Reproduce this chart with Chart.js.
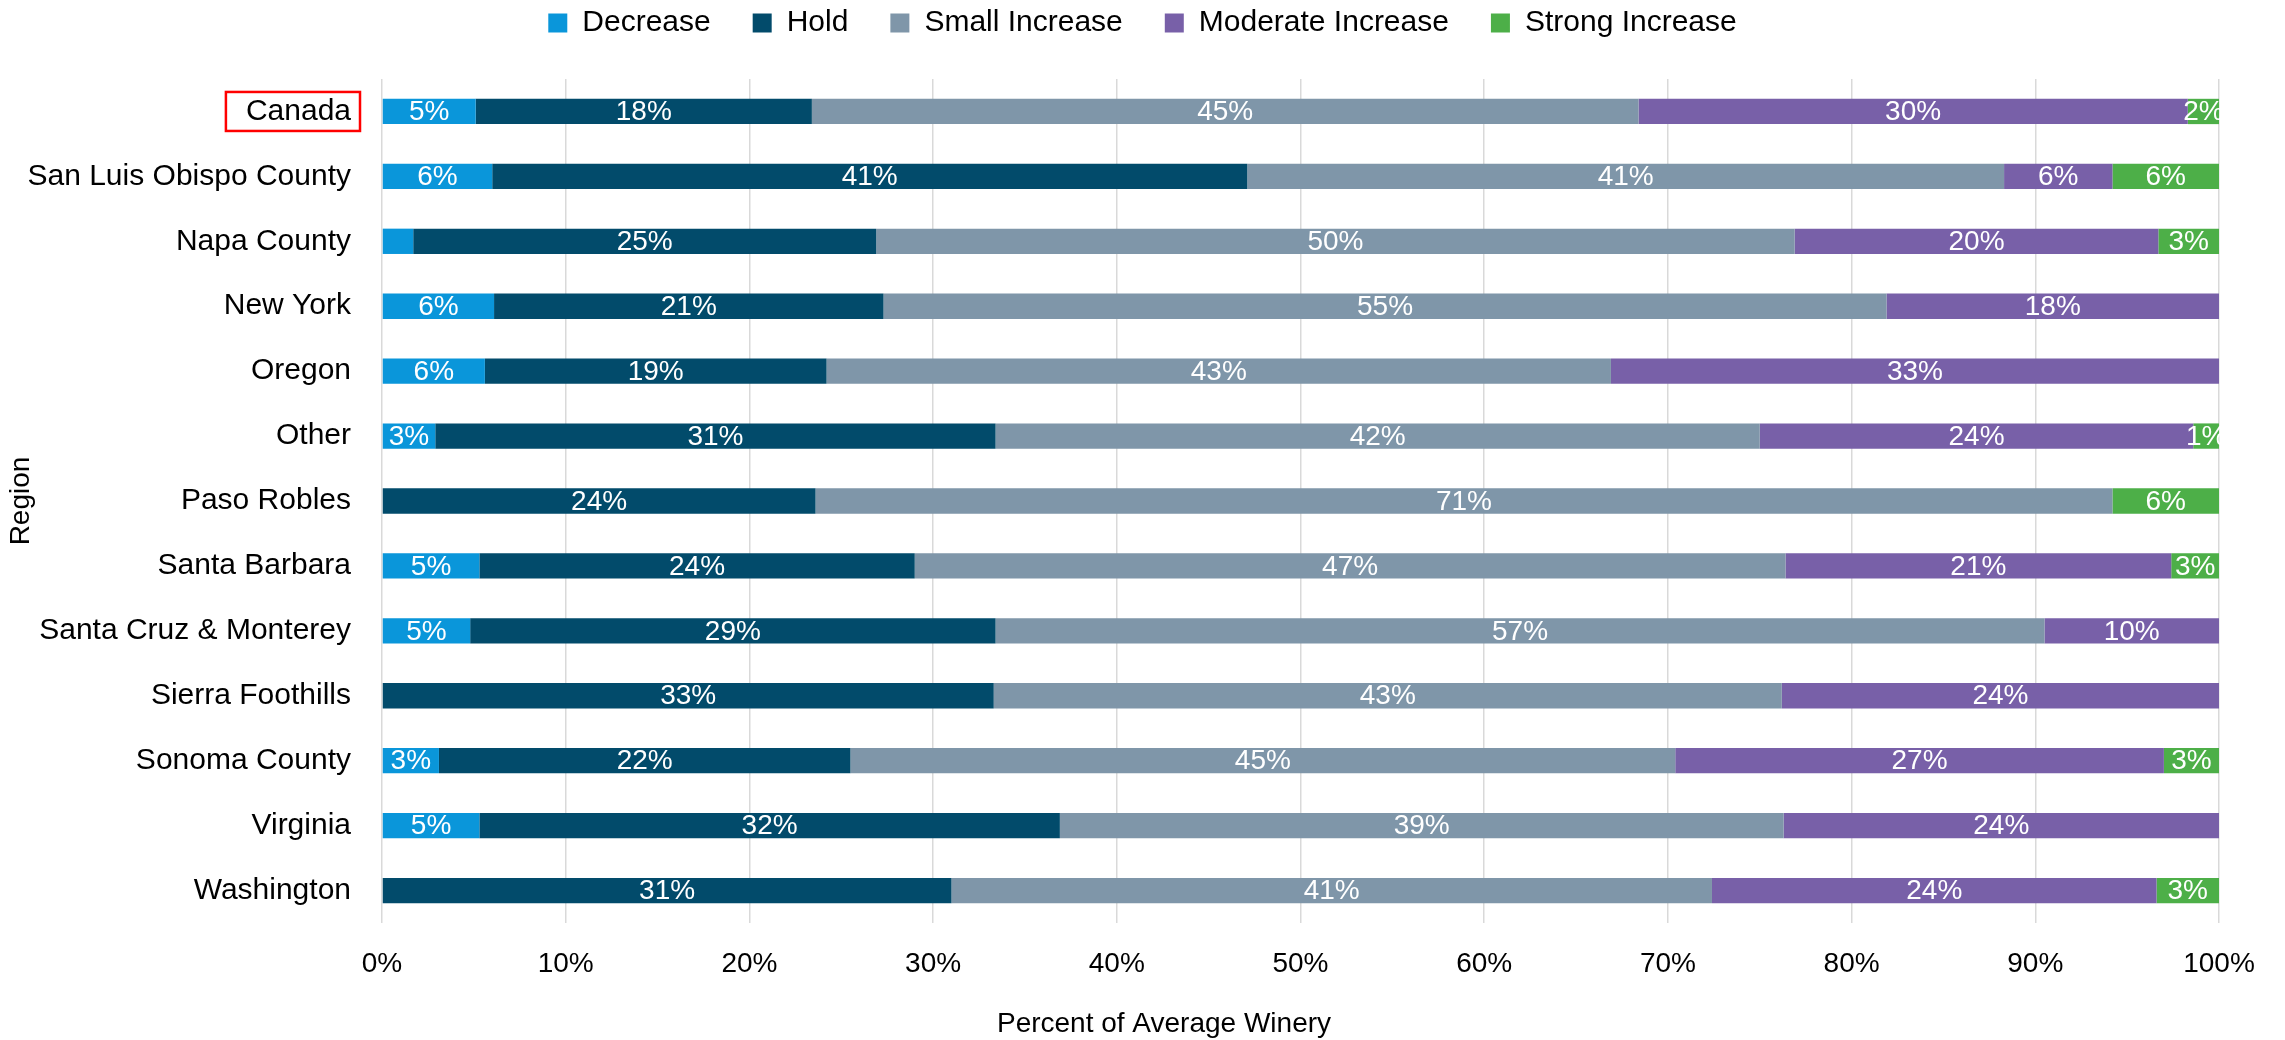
<!DOCTYPE html>
<html>
<head>
<meta charset="utf-8">
<title>Region outlook</title>
<script src="https://cdn.jsdelivr.net/npm/chart.js@4.4.1/dist/chart.umd.min.js"></script>
<style>
    html, body { margin: 0; padding: 0; background: #fff; }
    #wrap { width: 2285px; height: 1040px; }
</style>
</head>
<body>
<div id="wrap"><canvas id="regionChart" width="2285" height="1040"></canvas></div>
<script>
// Data (percent of average winery)
const categories = ['Canada', 'San Luis Obispo County', 'Napa County', 'New York', 'Oregon', 'Other',
    'Paso Robles', 'Santa Barbara', 'Santa Cruz & Monterey', 'Sierra Foothills', 'Sonoma County',
    'Virginia', 'Washington'];
const seriesNames = ['Decrease', 'Hold', 'Small Increase', 'Moderate Increase', 'Strong Increase'];
const decrease = [5.1, 6.0, 1.7, 6.1, 5.6, 2.9, 0, 5.3, 4.8, 0, 3.1, 5.3, 0];
const hold = [18.3, 41.1, 25.2, 21.2, 18.6, 30.5, 23.6, 23.7, 28.6, 33.3, 22.4, 31.6, 31.0];
const smallIncrease = [45.0, 41.2, 50.0, 54.6, 42.7, 41.6, 70.6, 47.4, 57.1, 42.9, 44.9, 39.4, 41.4];
const moderateIncrease = [29.9, 5.9, 19.8, 18.1, 33.1, 23.6, 0, 21.0, 9.5, 23.8, 26.6, 23.7, 24.2];
const strongIncrease = [1.7, 5.8, 3.3, 0, 0, 1.4, 5.8, 2.6, 0, 0, 3.0, 0, 3.4];
const xTicks = [0, 10, 20, 30, 40, 50, 60, 70, 80, 90, 100];
const hiddenLabels = ['Decrease|Napa County'];
const highlighted = 'Canada';

const colors = ['#0A96DA', '#024B6B', '#7F96A9', '#7860A8', '#4DAF48'];
const FONT = "'Liberation Sans', Arial, sans-serif";

// white percent labels centred in each segment
const segmentLabels = {
    id: 'segmentLabels',
    afterDatasetsDraw(chart) {
        const ctx = chart.ctx;
        ctx.save();
        ctx.font = '28px ' + FONT;
        ctx.fillStyle = '#fff';
        ctx.textAlign = 'center';
        ctx.textBaseline = 'middle';
        chart.data.datasets.forEach((ds, di) => {
            const meta = chart.getDatasetMeta(di);
            meta.data.forEach((bar, i) => {
                const v = ds.data[i];
                if (!v || hiddenLabels.includes(ds.label + '|' + categories[i])) return;
                ctx.fillText(Math.round(v) + '%', (bar.x + bar.base) / 2, bar.y + 1);
            });
        });
        ctx.restore();
    }
};

// legend spacing, red box around the highlighted region, x axis title
const extras = {
    id: 'extras',
    beforeInit(chart) {
        const fit = chart.legend.fit;
        chart.legend.fit = function () {
            fit.call(this);
            this.height += 31;
        };
    },
    afterLayout(chart) {
        // centre the legend on the full canvas, not the padded box
        chart.legend.right = chart.width;
        chart.legend.width = chart.legend.right - chart.legend.left;
    },
    afterDraw(chart) {
        const ctx = chart.ctx;
        const y = chart.scales.y;
        const idx = categories.indexOf(highlighted);
        const cy = y.getPixelForValue(idx);
        ctx.save();
        ctx.font = '30px ' + FONT;
        const w = ctx.measureText(highlighted).width;
        const right = y.right - 22;
        ctx.strokeStyle = '#FF0000';
        ctx.lineWidth = 2.5;
        ctx.strokeRect(right - w - 29, cy - 19.5, w + 29, 39);

        ctx.font = '28px ' + FONT;
        ctx.fillStyle = '#000';
        ctx.textAlign = 'center';
        ctx.textBaseline = 'middle';
        ctx.fillText('Percent of Average Winery', 1164, 1024);
        ctx.restore();
    }
};

const ctx = document.getElementById('regionChart').getContext('2d');
const seriesData = [decrease, hold, smallIncrease, moderateIncrease, strongIncrease];

new Chart(ctx, {
    type: 'bar',
    data: {
        labels: categories,
        datasets: seriesNames.map((name, i) => ({
            label: name,
            data: seriesData[i],
            backgroundColor: colors[i],
            borderWidth: 0,
            categoryPercentage: 1,
            barPercentage: 0.39
        }))
    },
    options: {
        indexAxis: 'y',
        responsive: false,
        animation: false,
        layout: { padding: { top: -34, right: 66, left: 0, bottom: 0 } },
        plugins: {
            legend: {
                position: 'top',
                labels: {
                    font: { family: FONT, size: 30 },
                    color: '#000',
                    boxWidth: 19,
                    boxHeight: 19,
                    padding: 42
                }
            },
            tooltip: { enabled: false }
        },
        scales: {
            x: {
                stacked: true,
                min: 0,
                max: 100,
                afterBuildTicks: s => { s.ticks = xTicks.map(v => ({ value: v })); },
                afterFit: s => { s.height = 117; },
                ticks: {
                    font: { family: FONT, size: 28 },
                    color: '#000',
                    padding: 24,
                    callback: v => v + '%'
                },
                grid: { color: '#D9D9D9', lineWidth: 1.5, drawTicks: false },
                border: { display: false }
            },
            y: {
                stacked: true,
                afterFit: s => { s.width = 382; },
                ticks: {
                    font: { family: FONT, size: 30 },
                    color: '#000',
                    padding: 23
                },
                grid: { display: false },
                border: { display: false },
                title: {
                    display: true,
                    text: 'Region',
                    font: { family: FONT, size: 28 },
                    color: '#000',
                    padding: { top: 4, bottom: 4 }
                }
            }
        }
    },
    plugins: [segmentLabels, extras]
});
</script>
</body>
</html>
